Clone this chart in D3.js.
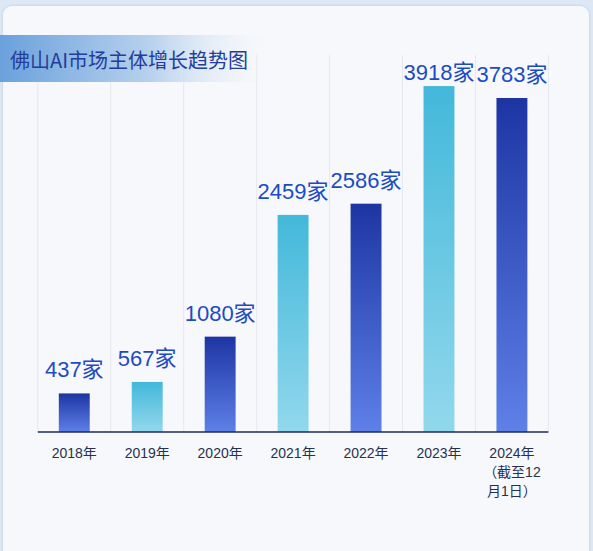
<!DOCTYPE html>
<html>
<head>
<meta charset="utf-8">
<title>佛山AI市场主体增长趋势图</title>
<style>
  html, body { margin: 0; padding: 0; background: #dce8f5; }
  svg { display: block; }
</style>
</head>
<body>
<script src="https://cdn.jsdelivr.net/npm/d3@7/dist/d3.min.js"></script>
<script>
var years = ["2018年", "2019年", "2020年", "2021年", "2022年", "2023年", "2024年"]
var yearNotes = ["", "", "", "", "", "", "（截至12|月1日）"]
var counts = [437, 567, 1080, 2459, 2586, 3918, 3783]
var unit = "家"
var title = "佛山AI市场主体增长趋势图"

var wd = 593, ht = 551
var plotL = 37.8, plotR = 548.4, plotT = 55, base = 432

var svg = d3.select("body").append("svg")
  .attr("width", wd)
  .attr("height", ht)

var defs = svg.append("defs")

function vGrad(id, c1, c2) {
  var g = defs.append("linearGradient").attr("id", id)
    .attr("x1", 0).attr("y1", 0).attr("x2", 0).attr("y2", 1)
  g.append("stop").attr("offset", "0%").attr("stop-color", c1)
  g.append("stop").attr("offset", "100%").attr("stop-color", c2)
}
vGrad("gDark", "#1d35a3", "#5e80e7")
vGrad("gLight", "#43b8da", "#92d8ec")

var tg = defs.append("linearGradient").attr("id", "gTitle")
  .attr("x1", 0).attr("y1", 0).attr("x2", 1).attr("y2", 0)
tg.append("stop").attr("offset", "0%").attr("stop-color", "#6aa1dc")
tg.append("stop").attr("offset", "55%").attr("stop-color", "#b9d2ee")
tg.append("stop").attr("offset", "100%").attr("stop-color", "#f7f8fb").attr("stop-opacity", 0)

var sh = defs.append("filter").attr("id", "shadow")
  .attr("x", "-5%").attr("y", "-5%").attr("width", "110%").attr("height", "110%")
sh.append("feDropShadow").attr("dx", 0).attr("dy", 0).attr("stdDeviation", 1.5)
  .attr("flood-color", "#9fb4cc").attr("flood-opacity", 0.6)

// card
svg.append("rect")
  .attr("x", 3).attr("y", 6)
  .attr("width", 586).attr("height", 560)
  .attr("rx", 9)
  .attr("fill", "#f7f8fb")
  .attr("filter", "url(#shadow)")

var x = d3.scaleBand().domain(years).range([plotL, plotR]).padding(0)
var y = d3.scaleLinear().domain([0, 4270]).range([base, plotT])

// vertical grid lines at band edges
var edges = years.map(function(d) { return x(d) }).concat([plotR])
svg.selectAll(".grid").data(edges).enter().append("line")
  .attr("class", "grid")
  .attr("x1", function(d) { return d }).attr("x2", function(d) { return d })
  .attr("y1", plotT).attr("y2", base)
  .attr("stroke", "#e5e8ef")
  .attr("stroke-width", 1)

// title band
svg.append("rect")
  .attr("x", 0).attr("y", 35)
  .attr("width", 278).attr("height", 47)
  .attr("fill", "url(#gTitle)")

svg.append("text")
  .attr("x", 10).attr("y", 68)
  .text(title)
  .attr("fill", "#223e9c")
  .style("font-family", "'Noto Sans CJK SC', sans-serif")
  .style("font-size", "20px")

var bw = x.bandwidth() * 0.424

svg.selectAll(".bar").data(counts).enter().append("rect")
  .attr("class", "bar")
  .attr("x", function(d, i) { return x(years[i]) + x.bandwidth() / 2 - bw / 2 })
  .attr("y", function(d) { return y(d) })
  .attr("width", bw)
  .attr("height", function(d) { return base - y(d) })
  .attr("fill", function(d, i) { return i % 2 ? "url(#gLight)" : "url(#gDark)" })

svg.selectAll(".val").data(counts).enter().append("text")
  .attr("class", "val")
  .attr("x", function(d, i) { return x(years[i]) + x.bandwidth() / 2 })
  .attr("y", function(d) { return Math.max(y(d) - 16, 80) })
  .attr("text-anchor", "middle")
  .attr("fill", "#1c4cc3")
  .style("font-family", "'Liberation Sans', Arial, 'Noto Sans CJK SC', sans-serif")
  .style("font-size", "22px")
  .text(function(d) { return d + unit })

// baseline
svg.append("line")
  .attr("x1", plotL).attr("x2", plotR)
  .attr("y1", base).attr("y2", base)
  .attr("stroke", "#1c2a5e")
  .attr("stroke-width", 1.5)

// category labels
var lab = svg.selectAll(".cat").data(years).enter().append("text")
  .attr("class", "cat")
  .attr("x", function(d) { return x(d) + x.bandwidth() / 2 })
  .attr("y", 458)
  .attr("text-anchor", "middle")
  .attr("fill", "#27314f")
  .style("font-family", "'Liberation Sans', Arial, 'Noto Sans CJK SC', sans-serif")
  .style("font-size", "14px")

lab.each(function(d, i) {
  var t = d3.select(this)
  var lines = [d].concat(yearNotes[i] ? yearNotes[i].split("|") : [])
  lines.forEach(function(s, k) {
    t.append("tspan")
      .attr("x", x(d) + x.bandwidth() / 2)
      .attr("dy", k == 0 ? 0 : 19)
      .text(s)
  })
})
</script>
</body>
</html>
